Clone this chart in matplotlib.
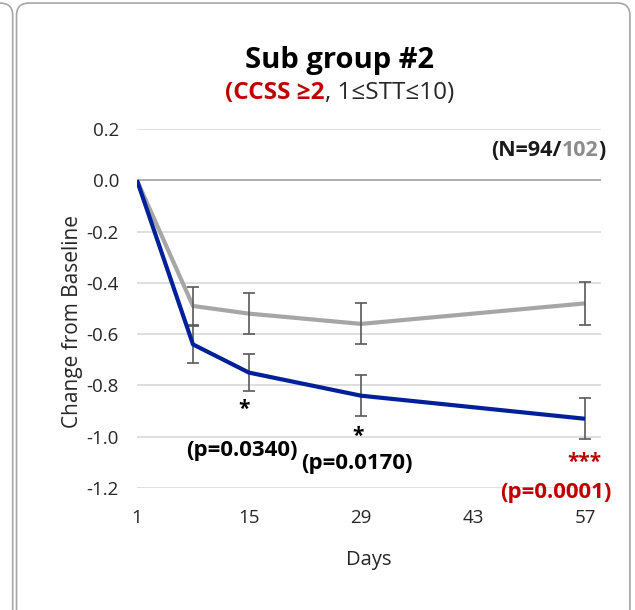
import matplotlib
matplotlib.use("Agg")
import matplotlib.pyplot as plt
from matplotlib.patches import FancyBboxPatch

plt.rcParams['font.family'] = ['Open Sans', 'DejaVu Sans']

# data
days = [1, 8, 15, 29, 57]
grp_gray = [0.0, -0.49, -0.52, -0.56, -0.48]
err_gray = [0.0, 0.075, 0.08, 0.08, 0.083]
grp_blue = [0.0, -0.64, -0.75, -0.84, -0.93]
err_blue = [0.0, 0.072, 0.072, 0.08, 0.08]
xticks = [1, 15, 29, 43, 57]
yticks = [0.2, 0.0, -0.2, -0.4, -0.6, -0.8, -1.0, -1.2]

fig = plt.figure(figsize=(6.35, 6.1), dpi=100)

# panel frames (behind the axes)
fig.patches.append(FancyBboxPatch((-0.05, -0.05), 0.07, 1.045, boxstyle="round,pad=0,rounding_size=0.02",
                                  transform=fig.transFigure, fc="white", ec="#A6A6A6", lw=1.2, zorder=-2))
fig.patches.append(FancyBboxPatch((0.026, -0.05), 0.966, 1.045, boxstyle="round,pad=0,rounding_size=0.02",
                                  transform=fig.transFigure, fc="white", ec="#A6A6A6", lw=1.2, zorder=-2))

ax = fig.add_axes([0.2157, 0.2, 0.7308, 0.5885])
ax.patch.set_alpha(0)
ax.set_xlim(1, 59)
ax.set_ylim(-1.2, 0.2)
for y in yticks:
    ax.axhline(y, color="#D9D9D9", lw=1.2, zorder=0)
ax.axhline(0, color="#A6A6A6", lw=1.2, zorder=0)

ax.errorbar(days[1:], grp_gray[1:], yerr=err_gray[1:], fmt="none", ecolor="#595959",
            elinewidth=1.2, capsize=4, capthick=1.2, zorder=3)
ax.errorbar(days[1:], grp_blue[1:], yerr=err_blue[1:], fmt="none", ecolor="#595959",
            elinewidth=1.2, capsize=4, capthick=1.2, zorder=3)
ax.plot(days, grp_gray, color="#A6A6A6", lw=3, zorder=2, solid_capstyle="butt")
ax.plot(days, grp_blue, color="#00209A", lw=3, zorder=4, solid_capstyle="butt")

ax.set_xticks(xticks)
ax.set_yticks(yticks)
ax.set_yticklabels(["%.1f" % v for v in yticks])
ax.tick_params(length=0, labelsize=13.5, colors="#262626")
ax.tick_params(axis="y", pad=13)
ax.tick_params(axis="x", pad=15)
for s in ax.spines.values():
    s.set_visible(False)
ax.set_ylabel("Change from Baseline", fontsize=15, color="#262626", va="center")
ax.yaxis.set_label_coords(-0.14, 0.465)
ax.set_xlabel("Days", fontsize=14.5, color="#262626", va="center")
ax.xaxis.set_label_coords(0.5, -0.2)

# titles
fig.text(0.535, 0.9016, "Sub group #2", ha="center", va="center", fontsize=21, fontweight="bold")

r = fig.canvas.get_renderer()
def place(cx, y, parts, align="center", **kw):
    objs = [fig.text(0, y, s, color=c, fontweight=w, va="center", ha="left", **kw) for s, c, w in parts]
    widths = [t.get_window_extent(r).width for t in objs]
    W = fig.bbox.width
    start = cx * W - (sum(widths) / 2 if align == "center" else sum(widths))
    for t, w in zip(objs, widths):
        t.set_x(start / W)
        start += w

place(0.535, 0.8475, [("(CCSS ≥2", "#C00000", "bold"), (", 1≤STT≤10)", "#262626", "normal")], fontsize=17.5)
place(0.954, 0.754, [("(N=94/", "#1a1a1a", "bold"), ("102", "#8C8C8C", "bold"), (")", "#1a1a1a", "bold")],
      align="right", fontsize=15.5)

# significance marks
ax.text(14.4, -0.895, "*", ha="center", va="center", fontsize=15, fontweight="bold")
ax.text(28.6, -1.0, "*", ha="center", va="center", fontsize=15, fontweight="bold")
ax.text(14.1, -1.055, "(p=0.0340)", ha="center", va="center", fontsize=16, fontweight="bold")
ax.text(28.5, -1.105, "(p=0.0170)", ha="center", va="center", fontsize=16, fontweight="bold")
ax.text(56.9, -1.10, "***", ha="center", va="center", fontsize=15, fontweight="bold", color="#C00000")
ax.text(53.3, -1.218, "(p=0.0001)", ha="center", va="center", fontsize=16, fontweight="bold",
        color="#C00000", clip_on=False)

fig.savefig("out.png", dpi=100)
